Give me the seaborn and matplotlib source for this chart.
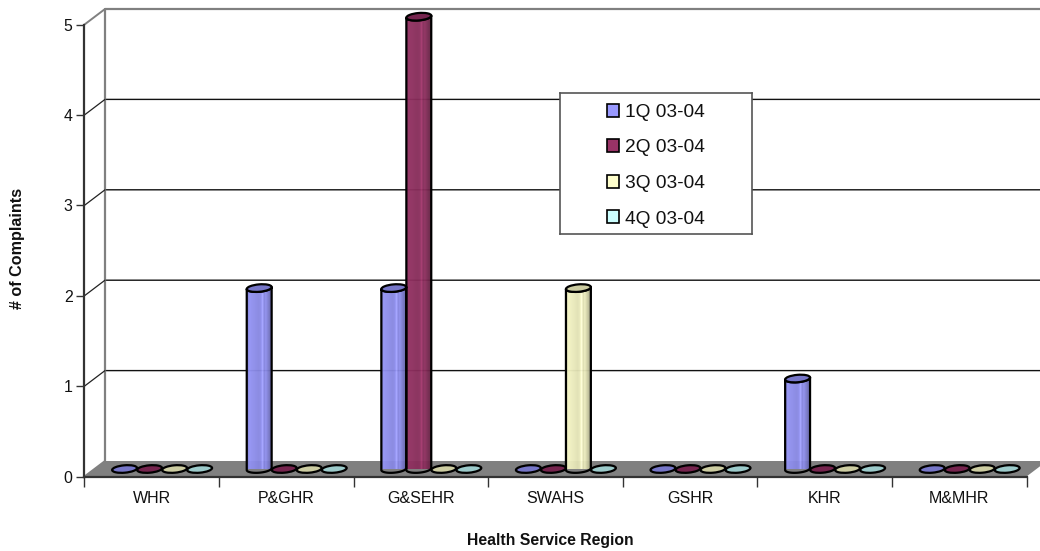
import numpy as np
import pandas as pd
import matplotlib
matplotlib.use("Agg")
import matplotlib.pyplot as plt
from matplotlib.patches import Ellipse, Patch, Polygon
from matplotlib.transforms import Affine2D, ScaledTranslation
from matplotlib.ticker import FixedLocator, NullFormatter
import seaborn as sns

regions = ["WHR", "P&GHR", "G&SEHR", "SWAHS", "GSHR", "KHR", "M&MHR"]
quarters = ["1Q 03-04", "2Q 03-04", "3Q 03-04", "4Q 03-04"]
q1_counts = [0, 2, 2, 0, 0, 1, 0]
q2_counts = [0, 0, 5, 0, 0, 0, 0]
q3_counts = [0, 0, 0, 2, 0, 0, 0]
q4_counts = [0, 0, 0, 0, 0, 0, 0]
series_colors = ["#9999FF", "#993366", "#FFFFCC", "#CCFFFF"]
cap_colors = ["#7676C8", "#76244E", "#CDCDA2", "#9CCBCB"]
# brightness across a cylinder's width, left edge to right edge
shade_stops = [0.0, 0.08, 0.45, 0.55, 0.60, 0.66, 0.72, 0.86, 1.0]
shade_levels = [0.78, 0.96, 0.88, 0.92, 1.12, 0.84, 0.94, 0.76, 0.62]

W, H = 1040, 551
sns.set_theme(style="white")
plt.rcParams["font.family"] = ["Liberation Sans", "DejaVu Sans"]


def box(left, top, right, bottom):
    return [left / W, 1 - bottom / H, (right - left) / W, (bottom - top) / H]


fig = plt.figure(figsize=(W / 100, H / 100), dpi=100, facecolor="white")

frame = pd.DataFrame({
    "region": regions * 4,
    "quarter": np.repeat(quarters, len(regions)),
    "count": q1_counts + q2_counts + q3_counts + q4_counts,
})

# Three planes stacked in depth: back wall, front axis, and the cylinders between them.
wall = fig.add_axes(box(105, 9, 1047, 461), zorder=0)
front = fig.add_axes(box(84.4, 24.6, 1026.6, 476.6), zorder=1)
bars = fig.add_axes(box(94.8, 16.7, 1037, 469), zorder=2)

for a in (wall, front, bars):
    a.set_xlim(-0.5, 6.5)
    a.set_ylim(0, 5)
    a.patch.set_alpha(0)

# back wall and floor
px_x = 942 / 7
px_y = 452 / 5
depth_x, depth_y = 20.6 / px_x, 15.6 / px_y
wall.add_patch(Polygon(
    [(-0.5 - depth_x, -depth_y), (6.5 - depth_x, -depth_y), (6.5, 0), (-0.5, 0)],
    closed=True, facecolor="#808080", edgecolor="none", clip_on=False, zorder=1))
wall.set_xticks([])
wall.set_yticks(range(6))
wall.set_yticklabels([])
wall.tick_params(left=False)
for spine in wall.spines.values():
    spine.set_visible(False)
for level in range(1, 5):
    wall.plot([-0.5, 6.5], [level, level], color="#111111", lw=1.0, clip_on=False,
              snap=False, zorder=2)
wall.plot([-0.5, -0.5, 6.5], [0, 5, 5], color="#808080", lw=1.6, clip_on=False, zorder=2)
for level in range(6):
    wall.plot([-0.5 - depth_x, -0.5], [level - depth_y, level],
              color="#808080" if level in (0, 5) else "#222222",
              lw=1.4 if level in (0, 5) else 0.9, clip_on=False, zorder=2)

# front axis
for name in ("top", "right"):
    front.spines[name].set_visible(False)
for name in ("left", "bottom"):
    front.spines[name].set_color("#333333")
    front.spines[name].set_linewidth(1.6)
front.set_yticks(range(6))
front.tick_params(axis="y", left=True, length=6, width=1.0, color="#333333",
                  labelsize=11.4, labelcolor="#111111", pad=2.5)
front.xaxis.set_major_locator(FixedLocator(np.arange(8) - 0.5))
front.xaxis.set_major_formatter(NullFormatter())
front.xaxis.set_minor_locator(FixedLocator(np.arange(7)))
front.set_xticklabels(regions, minor=True)
front.tick_params(axis="x", which="major", bottom=True, length=7, width=1.0, color="#333333")
front.tick_params(axis="x", which="minor", bottom=False, length=0, labelsize=11.5,
                  labelcolor="#111111", pad=10.5)
front.set_xlabel("Health Service Region", fontsize=11.3, fontweight="bold", color="#111111")
front.xaxis.set_label_coords((550 - 84.4) / 942.2, -(541 - 476.6) / 452, transform=front.transAxes)
front.xaxis.label.set_verticalalignment("center")
front.set_ylabel("# of Complaints", fontsize=11.6, fontweight="bold", color="#111111")
front.yaxis.set_label_coords((17 - 84.4) / 942.2, (476.6 - 248.5) / 452, transform=front.transAxes)
front.yaxis.label.set_verticalalignment("center")

# cylinders
sns.barplot(data=frame, x="region", y="count", hue="quarter", order=regions,
            hue_order=quarters, palette=series_colors, width=0.743, gap=0, dodge=True,
            saturation=1, errorbar=None, legend=False, ax=bars)
bars.set_xlim(-0.5, 6.5)
bars.set_ylim(0, 5)
bars.set_axis_off()

CAP_H = 3.7       # cap half height in pixels
TILT = np.deg2rad(5)


def cap_transform(xc, value, half_w):
    rotate = Affine2D().scale(half_w, CAP_H).rotate(TILT)
    return rotate + ScaledTranslation(xc, value, bars.transData)


def arc(xc, value, half_w, t0, t1):
    # half of a tilted cap outline, returned in data units
    t = np.linspace(t0, t1, 40)
    dx = half_w * np.cos(t) * np.cos(TILT) - CAP_H * np.sin(t) * np.sin(TILT)
    dy = half_w * np.cos(t) * np.sin(TILT) + CAP_H * np.sin(t) * np.cos(TILT)
    unit_x = (bars.transData.transform((1, 0)) - bars.transData.transform((0, 0)))[0]
    unit_y = (bars.transData.transform((0, 1)) - bars.transData.transform((0, 0)))[1]
    return np.column_stack([xc + dx / unit_x, value + dy / unit_y])


for container, base, cap in zip(bars.containers, series_colors, cap_colors):
    rgb = np.array(matplotlib.colors.to_rgb(base))
    ramp = np.interp(np.linspace(0, 1, 80), shade_stops, shade_levels)
    gradient = np.clip(rgb[None, None, :] * ramp[None, :, None], 0, 1)
    for bar in container:
        bar.set_facecolor("none")
        bar.set_edgecolor("none")
        value = bar.get_height()
        xc = bar.get_x() + bar.get_width() / 2
        unit = bars.transData.transform((1, 0))[0] - bars.transData.transform((0, 0))[0]
        half_w = bar.get_width() * unit / 2
        if value > 0:
            outline = np.vstack([
                arc(xc, 0, half_w, np.pi, 2 * np.pi),
                arc(xc, value, half_w, 2 * np.pi, np.pi),
            ])
            body = Polygon(outline, closed=True, facecolor="none", edgecolor="black",
                           lw=1.6, zorder=3, clip_on=False, joinstyle="round")
            bars.add_patch(body)
            image = bars.imshow(
                gradient, aspect="auto", interpolation="bilinear", alpha=0.96, zorder=2.9,
                extent=(bar.get_x(), bar.get_x() + bar.get_width(), -0.1, value + 0.1))
            image.set_clip_box(None)
            image.set_clip_path(body)
        bars.add_patch(Ellipse((0, 0), 2, 2, transform=cap_transform(xc, value, half_w),
                               facecolor=cap, edgecolor="black", lw=1.6, zorder=3.1,
                               clip_on=False))
bars.set_xlim(-0.5, 6.5)
bars.set_ylim(0, 5)

# legend box
key = fig.add_axes(box(559.5, 93, 752, 234.5), zorder=3, facecolor="white")
key.set_xticks([])
key.set_yticks([])
for spine in key.spines.values():
    spine.set_color("#555555")
    spine.set_linewidth(1.2)
handles = [Patch(facecolor=c, edgecolor="black", linewidth=1.2, label=q)
           for c, q in zip(series_colors, quarters)]
key.legend(handles=handles, loc="center", bbox_to_anchor=(0.5, 0.487), frameon=False,
           fontsize=13.8, handlelength=0.66, handleheight=0.66, handletextpad=0.3,
           labelspacing=0.96, borderpad=0, labelcolor="#111111")

fig.savefig("out.png", dpi=100, facecolor="white")
